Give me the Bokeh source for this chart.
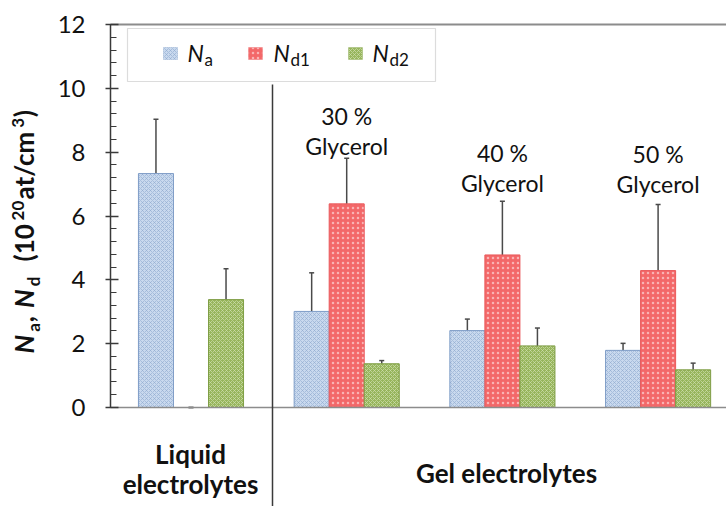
import math
from bokeh.plotting import figure
from bokeh.models import (Range1d, ColumnDataSource, Whisker, TeeHead, Label,
                          BoxAnnotation, Arrow, SingleIntervalTicker, FixedTicker, LinearAxis)
from bokeh.embed import file_html
from bokeh.resources import INLINE

# ---------------- data ----------------
groups = ["Liquid electrolytes", "30 % Glycerol", "40 % Glycerol", "50 % Glycerol"]
na = [7.33, 3.01, 2.41, 1.79]
na_err = [1.70, 1.21, 0.36, 0.22]
nd1 = [0.0, 6.38, 4.78, 4.29]
nd1_err = [0.0, 1.43, 1.68, 2.07]
nd2 = [3.38, 1.37, 1.93, 1.18]
nd2_err = [0.97, 0.10, 0.56, 0.21]
glycerol_pct = ["30 %", "40 %", "50 %"]
y_ticks = [0, 2, 4, 6, 8, 10, 12]

FONT = "Lato"

# ---------------- layout helpers (canvas px -> data) ----------------
W, H = 726, 506
FRAME_L, FRAME_T, FRAME_B = 110, 24, 407
X0 = -0.017
PXX = 155.7
PYU = (FRAME_B - FRAME_T) / 12.0
BASE_CORR = 0.43  # empirical baseline correction (fraction of font size)


def px2x(px):
    return X0 + (px - FRAME_L) / PXX


def px2y(py):
    return (FRAME_B - py) / PYU


def base_y(py, fs):
    return px2y(py - BASE_CORR * fs)


p = figure(width=W, height=H, output_backend="svg", toolbar_location=None,
           x_range=Range1d(px2x(0), px2x(W)), y_range=Range1d(px2y(H), px2y(0)),
           x_axis_location=None, y_axis_location=None,
           min_border=0)
p.outline_line_color = None
p.xgrid.visible = False
p.ygrid.visible = False
p.background_fill_color = "white"
p.border_fill_color = "white"

X_END = px2x(W + 20)

# y axis at the left edge of the plotting area
yax = LinearAxis(fixed_location=X0, bounds=(y_ticks[0], y_ticks[-1]),
                 ticker=SingleIntervalTicker(interval=2, num_minor_ticks=5))
yax.axis_line_color = "#3a3a3a"
yax.axis_line_width = 1.5
yax.major_tick_line_color = "#3a3a3a"
yax.major_tick_line_width = 1.5
yax.major_tick_in = 8
yax.major_tick_out = 5
yax.minor_tick_line_color = "#3a3a3a"
yax.minor_tick_line_width = 1.2
yax.minor_tick_in = 6
yax.minor_tick_out = 0
yax.major_label_text_font = FONT
yax.major_label_text_font_size = "24px"
yax.major_label_text_color = "#111111"
yax.major_label_standoff = 20
p.add_layout(yax, "left")

# x axis baseline at y = 0
xax = LinearAxis(fixed_location=0, bounds=(X0, X_END), ticker=FixedTicker(ticks=[]))
xax.axis_line_color = "#8c8c8c"
xax.axis_line_width = 1.5
xax.major_tick_line_color = None
xax.minor_tick_line_color = None
xax.major_label_text_font_size = "0px"
p.add_layout(xax, "below")

# top border line at y = 12
tax = LinearAxis(fixed_location=y_ticks[-1], bounds=(X0, X_END), ticker=FixedTicker(ticks=[]))
tax.axis_line_color = "#8c8c8c"
tax.axis_line_width = 2
tax.major_tick_line_color = None
tax.minor_tick_line_color = None
tax.major_label_text_font_size = "0px"
p.add_layout(tax, "above")

# ---------------- bars ----------------
BW = 0.225
centers = [i + 0.5 for i in range(len(groups))]

series = [
    (na, na_err, -BW, dict(fill_color="#c9d9ee", line_color="#7f9dc7",
                           hatch_pattern="diagonal_cross", hatch_color="#8fa9cf",
                           hatch_scale=4, hatch_weight=0.6)),
    (nd1, nd1_err, 0.0, dict(fill_color="#f36869", line_color="#e95a5c",
                             hatch_pattern="dot", hatch_color="#ffffff",
                             hatch_scale=5, hatch_weight=1.0, hatch_alpha=0.5)),
    (nd2, nd2_err, BW, dict(fill_color="#97b55c", line_color="#7f9e46",
                            hatch_pattern="diagonal_cross", hatch_color="#cfe0ad",
                            hatch_scale=4, hatch_weight=0.7)),
]

for vals, errs, off, style in series:
    xs = [c + off for c in centers]
    src = ColumnDataSource(dict(x=xs, top=vals,
                                upper=[v + e for v, e in zip(vals, errs)],
                                lower=[v - e for v, e in zip(vals, errs)]))
    p.vbar(x="x", top="top", width=BW, bottom=0, source=src, line_width=1, **style)
    w = Whisker(source=src, base="x", upper="upper", lower="lower",
                line_color="#4a4a4a", line_width=1.5,
                upper_head=TeeHead(size=5, line_color="#4a4a4a", line_width=1.5),
                lower_head=TeeHead(size=5, line_color="#4a4a4a", line_width=1.5))
    p.add_layout(w)

# ---------------- glycerol annotations ----------------
GF = 23
gly_baselines = [(125, 155), (162, 192), (163, 193)]
for pct, c, (b1, b2) in zip(glycerol_pct, centers[1:], gly_baselines):
    p.add_layout(Label(x=c, y=base_y(b1, GF), text=pct, text_align="center",
                       text_baseline="alphabetic", text_font=FONT,
                       text_font_size=f"{GF}px", text_color="#111111"))
    p.add_layout(Label(x=c, y=base_y(b2, GF), text="Glycerol", text_align="center",
                       text_baseline="alphabetic", text_font=FONT,
                       text_font_size=f"{GF}px", text_color="#111111"))

# ---------------- separator line ----------------
p.add_layout(Arrow(end=None, x_start=px2x(272), y_start=px2y(84),
                   x_end=px2x(272), y_end=px2y(H + 5),
                   line_color="#3a3a3a", line_width=1.5))

# ---------------- section labels ----------------
SF = 26
for txt, cx, by in [("Liquid", 190, 465), ("electrolytes", 190, 495),
                    ("Gel electrolytes", 506, 484)]:
    p.add_layout(Label(x=px2x(cx), y=base_y(by, SF), text=txt, text_align="center",
                       text_baseline="alphabetic", text_font=FONT,
                       text_font_style="bold", text_font_size=f"{SF}px",
                       text_color="#111111"))

# ---------------- legend (manual) ----------------
p.add_layout(BoxAnnotation(left=px2x(127), right=px2x(435), top=px2y(28), bottom=px2y(81),
                           fill_color="white", fill_alpha=1.0,
                           line_color="#8c8c8c", line_width=1.2))
LF, LS = 23, 17
legend_items = [(163, 187, 204, "a", series[0][3]),
                (248, 273, 290, "d1", series[1][3]),
                (348, 372, 389, "d2", series[2][3])]
for sw, nx, sx, sub, st in legend_items:
    p.add_layout(BoxAnnotation(left=px2x(sw), right=px2x(sw + 14), top=px2y(47), bottom=px2y(59),
                               fill_alpha=1.0, line_width=1, **st))
    p.add_layout(Label(x=px2x(nx), y=base_y(62, LF), text="N", text_font=FONT,
                       text_font_style="italic", text_font_size=f"{LF}px",
                       text_baseline="alphabetic", text_color="#111111"))
    p.add_layout(Label(x=px2x(sx), y=base_y(66, LS), text=sub, text_font=FONT,
                       text_font_size=f"{LS}px", text_baseline="alphabetic",
                       text_color="#111111"))

# ---------------- y axis label (composed, rotated) ----------------
# approximate Lato Bold advance widths (em)
ADV = {'N': 0.84, 'a': 0.55, ',': 0.27, ' ': 0.276, 'd': 0.615, '(': 0.35, ')': 0.35,
       '0': 0.615, '1': 0.615, '2': 0.615, '3': 0.615, 't': 0.39, '/': 0.40,
       'c': 0.50, 'm': 0.92}
YF, YS = 26, 17
BASE_X = 35
# (text, font size, style, baseline shift px, leading gap in spaces)
pieces = [("N", YF, "bold italic", 0, 0),
          ("a", YS, "bold", 5, 0),
          (",", YF, "bold", 0, 0),
          ("N", YF, "bold italic", 0, 1),
          ("d", YS, "bold", 5, 0),
          ("(10", YF, "bold", 0, 2),
          ("20", YS, "bold", -10, 0),
          ("at/cm", YF, "bold", 0, 0),
          ("3", YS, "bold", -10, 0),
          (")", YF, "bold", 0, 0)]
py = 353.0
for txt, fs, style, shift, gap in pieces:
    py -= gap * ADV[' '] * YF
    bx = BASE_X + shift - BASE_CORR * fs
    p.add_layout(Label(x=px2x(bx), y=px2y(py), text=txt, angle=math.pi / 2,
                       text_align="left", text_baseline="alphabetic", text_font=FONT,
                       text_font_style=style, text_font_size=f"{fs}px",
                       text_color="#111111"))
    py -= sum(ADV.get(ch, 0.55) for ch in txt) * fs

open("out.html", "w").write(file_html(p, INLINE))
